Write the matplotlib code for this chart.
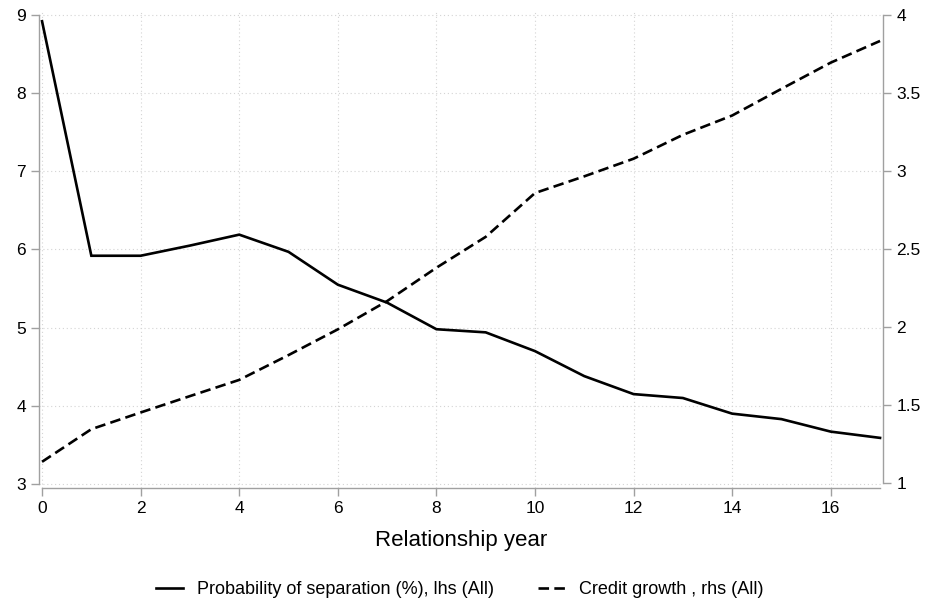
import matplotlib
matplotlib.use("Agg")
import matplotlib.pyplot as plt

plt.rcParams['font.family'] = ['Liberation Sans', 'DejaVu Sans']

years = list(range(18))
separation = [8.92, 5.92, 5.92, 6.05, 6.19, 5.97, 5.55, 5.32, 4.98, 4.94, 4.70, 4.38,
              4.15, 4.10, 3.90, 3.83, 3.67, 3.59]
credit = [1.136, 1.345, 1.452, 1.557, 1.661, 1.82, 1.985, 2.166, 2.38, 2.578, 2.859, 2.966,
          3.079, 3.232, 3.356, 3.527, 3.695, 3.834]
xticks = list(range(0, 17, 2))
lticks = [3, 4, 5, 6, 7, 8, 9]
rticks = [1, 1.5, 2, 2.5, 3, 3.5, 4]
rticklabels = ['1', '1.5', '2', '2.5', '3', '3.5', '4']

fig = plt.figure(figsize=(9.25, 6.08), dpi=100)
ax = fig.add_axes([0.0422, 0.1979, 0.9124, 0.7835])
ax2 = ax.twinx()

grey = '#a0a0a0'
l1, = ax.plot(years, separation, color='black', lw=1.9, solid_joinstyle='miter',
              label='Probability of separation (%), lhs (All)')
l2, = ax2.plot(years, credit, color='black', lw=1.9, linestyle=(0, (4, 2)),
               label='Credit growth , rhs (All)')

ax.set_xlim(-0.061, 17.06)
ax.set_ylim(2.953, 9.047)
ax2.set_ylim(0.970, 4.024)

ax.set_xticks(xticks)
ax.set_yticks(lticks)
ax2.set_yticks(rticks)
ax2.set_yticklabels(rticklabels)

for a in (ax, ax2):
    for s in a.spines.values():
        s.set_visible(False)
ax.spines['left'].set_visible(True)
ax.spines['left'].set_bounds(3, 9)
ax.spines['bottom'].set_visible(True)
ax.spines['bottom'].set_bounds(0, 17)
ax2.spines['right'].set_visible(True)
ax2.spines['right'].set_bounds(1, 4)
for s in (ax.spines['left'], ax.spines['bottom'], ax2.spines['right']):
    s.set_color(grey)
    s.set_linewidth(1.0)

ax.tick_params(axis='both', colors=grey, labelcolor='black', labelsize=12.5, length=6, width=1, pad=3.5)
ax2.tick_params(axis='y', colors=grey, labelcolor='black', labelsize=12.5, length=6, width=1, pad=3.5)

ax.grid(True, color='#d4d4d4', linestyle=(0, (1, 2.5)), linewidth=0.8)
ax.set_axisbelow(True)

ax.set_xlabel('Relationship year', fontsize=16, labelpad=10)

fig.legend(handles=[l1, l2], loc='center', bbox_to_anchor=(0.497, 0.03), ncol=2,
           frameon=False, fontsize=13,
           handlelength=1.5, columnspacing=2.4, handletextpad=0.78)

fig.savefig('out.png', dpi=100)
